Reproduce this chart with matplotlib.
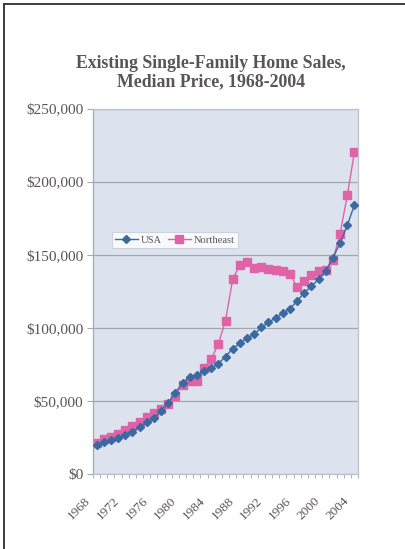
import numpy as np
import matplotlib
matplotlib.use("Agg")
import matplotlib.pyplot as plt
import matplotlib.transforms as mtransforms
from matplotlib.lines import Line2D
from matplotlib.ticker import FuncFormatter

# median price, existing single-family homes
years = list(range(1968, 2005))
usa = [20100, 21800, 23000, 24800, 26700, 28900, 32000, 35300, 38100, 42900,
       48700, 55700, 62200, 66400, 67800, 70300, 72400, 75500, 80300, 85600,
       89300, 93100, 95500, 100300, 103700, 106800, 109900, 113100, 118200, 124100,
       128400, 133300, 139000, 147800, 158100, 170000, 184100]
northeast = [21400, 23700, 25200, 27100, 29800, 32800, 35800, 39300, 41800, 44400,
             47900, 53600, 60800, 63700, 63500, 72200, 78700, 88900, 104800, 133300,
             143000, 145000, 141200, 141900, 140000, 139500, 139100, 136900, 127800, 131800,
             135900, 139000, 139400, 146500, 164300, 190500, 220000]
label_years = [1968, 1972, 1976, 1980, 1984, 1988, 1992, 1996, 2000, 2004]

serif = ["Liberation Serif", "DejaVu Serif"]
txt_col = "#5a5458"

fig = plt.figure(figsize=(4.05, 5.49), dpi=100)
fig.patch.set_facecolor("white")

# page frame (top and left edges)
fig.add_artist(Line2D([4/405, 1.0], [1-4/549, 1-4/549], color="#3c3c3c", lw=1.4))
fig.add_artist(Line2D([4/405, 4/405], [0.0, 1-4/549], color="#3c3c3c", lw=1.4))

ax = fig.add_axes([93/405, 1-474/549, 265/405, 365.5/549])
ax.set_facecolor("#dde3ee")

x = np.arange(len(years))
ax.plot(x, usa, color="#3b6aa0", lw=1.0, marker="D", ms=4.4,
        mfc="#3b6aa0", mec="#3b6aa0", label="USA", zorder=3)
ax.plot(x, northeast, color="#e063a8", lw=1.0, marker="s", ms=5.2,
        mfc="#e063a8", mec="#e063a8", label="Northeast", zorder=2)

ax.set_xlim(-0.5, len(years) - 0.5)
ax.set_ylim(0, 250000)
ax.set_yticks(np.arange(0, 250001, 50000))
ax.yaxis.set_major_formatter(FuncFormatter(lambda v, p: "${:,.0f}".format(v)))
ax.grid(axis="y", color="#a4a8ae", lw=0.9)
ax.set_axisbelow(True)

ax.set_xticks([years.index(y) for y in label_years])
ax.set_xticks(np.arange(len(years) + 1) - 0.5, minor=True)
ax.tick_params(axis="x", which="major", length=0, pad=13)
ax.tick_params(axis="x", which="minor", length=3, color="#b0b4bc", width=0.8)
ax.tick_params(axis="y", length=4, color="#a4a8ae", width=0.8, pad=3)
ax.set_xticklabels([str(y) for y in label_years], rotation=45, ha="right",
                   rotation_mode="anchor", family=serif, fontsize=9.5, color=txt_col)
# nudge the slanted year labels to the left of their category
shift = mtransforms.ScaledTranslation(-12/100, -3/100, fig.dpi_scale_trans)
for lab in ax.get_xticklabels():
    lab.set_transform(lab.get_transform() + shift)
for lab in ax.get_yticklabels():
    lab.set_family(serif)
    lab.set_fontsize(11)
    lab.set_color(txt_col)

for side in ["top", "right", "bottom"]:
    ax.spines[side].set_color("#bcc2cc")
    ax.spines[side].set_linewidth(0.9)
ax.spines["left"].set_color("#a4a8ae")
ax.spines["left"].set_linewidth(0.9)

leg = ax.legend(loc="center left", bbox_to_anchor=(0.07, 0.64), ncol=2,
                frameon=True, fancybox=False, prop={"family": serif, "size": 7.6},
                handlelength=2.2, handletextpad=0.3, columnspacing=0.5,
                borderpad=0.3, borderaxespad=0)
leg.get_frame().set_facecolor("white")
leg.get_frame().set_edgecolor("#c8ccd4")
leg.get_frame().set_linewidth(0.8)
for t in leg.get_texts():
    t.set_color(txt_col)

fig.text(211/405, 1-72.5/549, "Existing Single-Family Home Sales,\nMedian Price, 1968-2004",
         ha="center", va="center", family=serif, fontsize=12.8, fontweight="bold",
         color=txt_col, linespacing=1.12)

fig.savefig("out.png", dpi=100)
